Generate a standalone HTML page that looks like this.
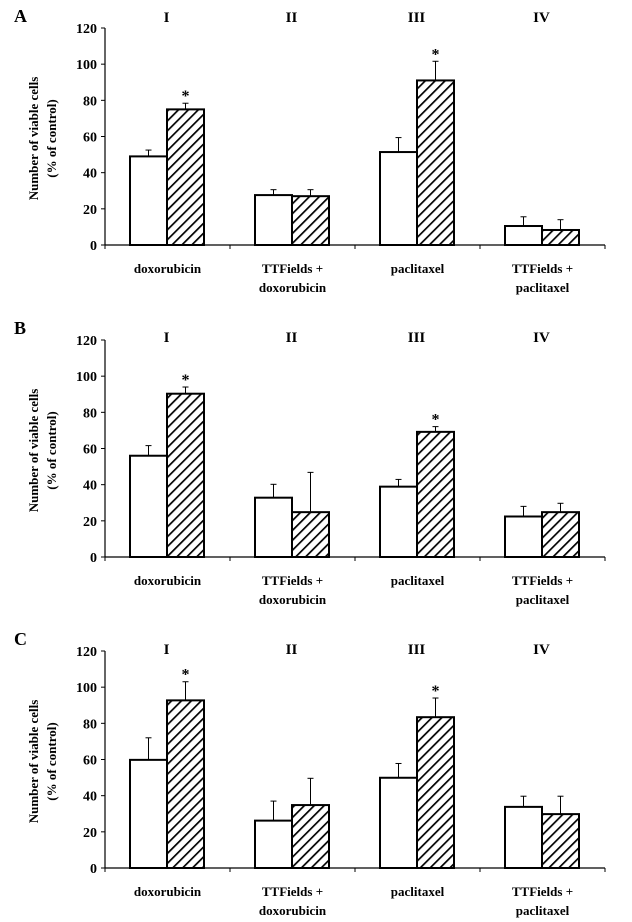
<!DOCTYPE html>
<html><head><meta charset="utf-8"><style>
html,body{margin:0;padding:0;background:#fff;}
svg{display:block;font-family:"Liberation Serif",serif;font-weight:bold;}
</style></head><body>
<svg id="chart" width="632" height="922" viewBox="0 0 632 922" xmlns="http://www.w3.org/2000/svg">
<defs>
<pattern id="hatch" patternUnits="userSpaceOnUse" width="7" height="7" patternTransform="rotate(45)">
<rect width="7" height="7" fill="#fff"/><line x1="0" y1="0" x2="0" y2="7" stroke="#000" stroke-width="3.4"/>
</pattern>
</defs>
</svg>
<script>
const categories = ["doxorubicin", "TTFields +|doxorubicin", "paclitaxel", "TTFields +|paclitaxel"];
const romans = ["I", "II", "III", "IV"];
const yTicks = [0, 20, 40, 60, 80, 100, 120];
const panelLetters = ["A", "B", "C"];
const whiteA = [49, 27.6, 51.4, 10.5];
const whiteErrA = [3.5, 3, 8, 5.1];
const hatchA = [75, 27, 91, 8.3];
const hatchErrA = [3.4, 3.6, 10.6, 5.7];
const whiteB = [56, 32.8, 38.9, 22.4];
const whiteErrB = [5.6, 7.4, 4, 5.6];
const hatchB = [90.3, 24.8, 69.2, 24.8];
const hatchErrB = [3.7, 22, 2.9, 4.9];
const whiteC = [59.8, 26.2, 49.9, 33.8];
const whiteErrC = [12.2, 10.8, 7.9, 5.9];
const hatchC = [92.7, 34.8, 83.4, 29.8];
const hatchErrC = [10.3, 14.8, 10.6, 9.9];
const sigA = [1, 0, 1, 0];
const sigB = [1, 0, 1, 0];
const sigC = [1, 0, 1, 0];

const NS = "http://www.w3.org/2000/svg";
const svg = document.getElementById("chart");
function mk(tag, attrs, parent) {
  const e = document.createElementNS(NS, tag);
  for (const k in attrs) e.setAttribute(k, attrs[k]);
  (parent || svg).appendChild(e);
  return e;
}
const panels = [
  {top: 28, zero: 245, romanY: 22, letterY: 22, white: whiteA, wErr: whiteErrA, hatch: hatchA, hErr: hatchErrA, sig: sigA},
  {top: 340, zero: 557, romanY: 342, letterY: 334, white: whiteB, wErr: whiteErrB, hatch: hatchB, hErr: hatchErrB, sig: sigB},
  {top: 651, zero: 868, romanY: 654, letterY: 645, white: whiteC, wErr: whiteErrC, hatch: hatchC, hErr: hatchErrC, sig: sigC}
];
const x0 = 105, catW = 125, barW = 37, barOff = 25;
panels.forEach((p, pi) => {
  const g = mk("g", {});
  
  
  const y = v => p.zero - (v / 120) * (p.zero - p.top);
  const xc = i => x0 + i * catW;
  const lt = mk("text", {x: 14, y: p.letterY, "font-size": 18}, g);
  lt.textContent = panelLetters[pi];
  
  
  const ya = mk("line", {x1: x0, y1: p.top, x2: x0, y2: p.zero, stroke: "#000", "stroke-width": 1.2}, g);
  
  
  yTicks.forEach(t => {
    mk("line", {x1: x0 - 4, y1: y(t), x2: x0, y2: y(t), stroke: "#000", "stroke-width": 1}, g);
    const tl = mk("text", {x: x0 - 8, y: y(t) + 5, "font-size": 14, "text-anchor": "end"}, g);
    tl.textContent = t;
    
    
  });
  const yt = mk("text", {transform: "translate(38," + ((p.top + p.zero) / 2 + 2) + ") rotate(-90)", "font-size": 13, "text-anchor": "middle"}, g);
  
  
  const t1 = mk("tspan", {x: 0, y: 0}, yt); t1.textContent = "Number of viable cells";
  const t2 = mk("tspan", {x: 0, y: 18}, yt); t2.textContent = "(% of control)";
  const xa = mk("line", {x1: x0, y1: p.zero, x2: x0 + 4 * catW, y2: p.zero, stroke: "#000", "stroke-width": 1.2}, g);
  
  
  for (let i = 0; i <= 4; i++) mk("line", {x1: xc(i), y1: p.zero, x2: xc(i), y2: p.zero + 4, stroke: "#000", "stroke-width": 1}, g);
  categories.forEach((c, i) => {
    const cx = xc(i) + catW / 2;
    const rn = mk("text", {x: cx - 1, y: p.romanY, "font-size": 15, "text-anchor": "middle"}, g);
    rn.textContent = romans[i];
    
    
    c.split("|").forEach((line, li) => {
      const cl = mk("text", {x: cx, y: p.zero + 28 + li * 19, "font-size": 13, "text-anchor": "middle"}, g);
      cl.textContent = line;
      
      
    });
    const bx = xc(i) + barOff;
    [[p.white[i], p.wErr[i], "#fff", "white-bar"], [p.hatch[i], p.hErr[i], "url(#hatch)", "hatched-bar"]].forEach((d, k) => {
      const x = bx + k * barW;
      const ex = x + barW / 2;
      mk("line", {x1: ex, y1: y(d[0]), x2: ex, y2: y(d[0] + d[1]), stroke: "#000", "stroke-width": 1}, g);
      mk("line", {x1: ex - 3, y1: y(d[0] + d[1]), x2: ex + 3, y2: y(d[0] + d[1]), stroke: "#000", "stroke-width": 1}, g);
      const r = mk("rect", {x: x, y: y(d[0]), width: barW, height: p.zero - y(d[0]), fill: d[2], stroke: "#000", "stroke-width": 2}, g);
      
      
      if (k === 1 && p.sig[i]) {
        const s = mk("text", {x: ex, y: y(d[0] + d[1]) - 2, "font-size": 16, "text-anchor": "middle"}, g);
        s.textContent = "*";
        
        
      }
    });
  });
});
</script>
</body></html>
